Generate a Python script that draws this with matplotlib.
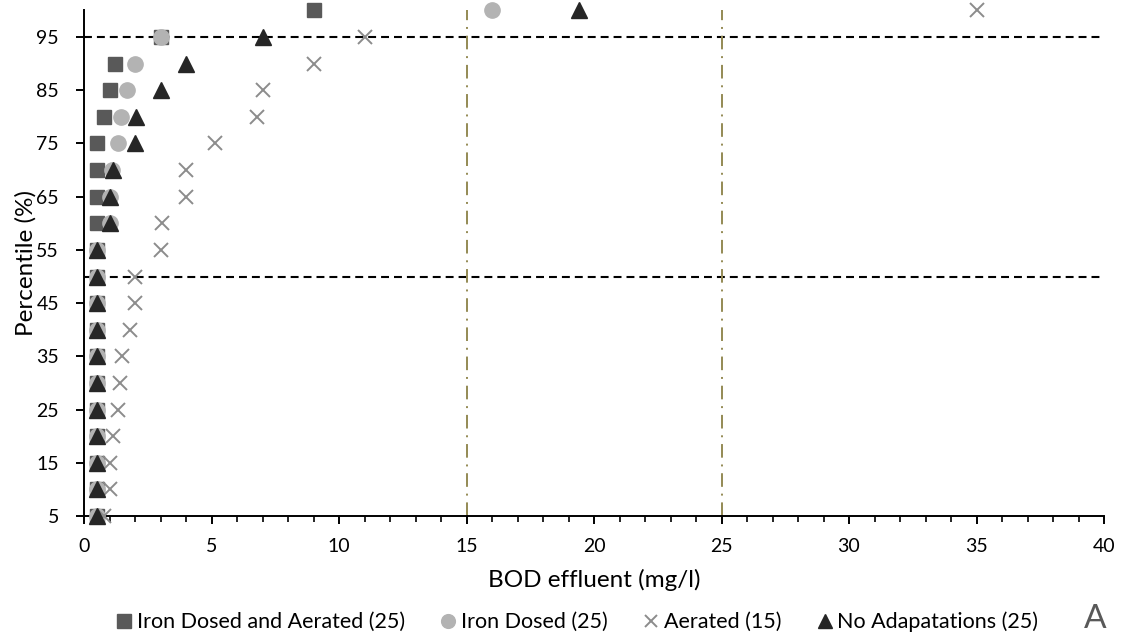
import numpy as np
import matplotlib.pyplot as plt
from matplotlib.ticker import MultipleLocator, FixedLocator

plt.rcParams["font.family"] = ["Lato", "DejaVu Sans"]

percentiles = list(range(5, 101, 5))

iron_dosed_aerated = [0.5, 0.5, 0.5, 0.5, 0.5, 0.5, 0.5, 0.5, 0.5, 0.5,
                      0.5, 0.5, 0.5, 0.5, 0.5, 0.8, 1.0, 1.2, 3.0, 9.0]
iron_dosed = [0.5, 0.5, 0.5, 0.5, 0.5, 0.5, 0.5, 0.5, 0.5, 0.5,
              0.5, 1.0, 1.0, 1.1, 1.35, 1.45, 1.7, 2.0, 3.0, 16.0]
aerated = [0.8, 1.0, 1.0, 1.15, 1.35, 1.4, 1.5, 1.8, 2.0, 2.0,
           3.0, 3.05, 4.0, 4.0, 5.15, 6.8, 7.0, 9.0, 11.0, 35.0]
no_adaptations = [0.5, 0.5, 0.5, 0.5, 0.5, 0.5, 0.5, 0.5, 0.5, 0.5,
                  0.5, 1.0, 1.0, 1.15, 2.0, 2.05, 3.0, 4.0, 7.0, 19.4]

series_labels = ["Iron Dosed and Aerated (25)", "Iron Dosed (25)",
                 "Aerated (15)", "No Adapatations (25)"]

percentile_lines = [50, 95]
limit_lines = [15, 25]

fig = plt.figure(figsize=(11.24, 6.38), dpi=100)
ax = fig.add_axes([84 / 1124, 1 - 516 / 638, 1020 / 1124, (516 - 10.4) / 638])

for y in percentile_lines:
    ax.axhline(y, color="black", lw=1.5, ls=(0, (3.8, 2.4)), zorder=1)
for x in limit_lines:
    ax.axvline(x, color="#948a54", lw=1.4, ls=(0, (7, 3.5, 1, 3.5)), zorder=1)

ax.plot(iron_dosed_aerated, percentiles, "s", ms=10.5, color="#595959",
        mec="#595959", ls="none", label=series_labels[0], clip_on=False, zorder=3)
ax.plot(iron_dosed, percentiles, "o", ms=11, color="#b3b3b3",
        mec="#b3b3b3", ls="none", label=series_labels[1], clip_on=False, zorder=4)
ax.plot(aerated, percentiles, "x", ms=9.5, mew=1.4, color="#8c8c8c",
        ls="none", label=series_labels[2], clip_on=False, zorder=5)
ax.plot(no_adaptations, percentiles, "^", ms=11, color="#262626",
        mec="#262626", ls="none", label=series_labels[3], clip_on=False, zorder=6)

ax.set_xlim(0, 40)
ax.set_ylim(5, 100)
ax.xaxis.set_major_locator(MultipleLocator(5))
ax.xaxis.set_minor_locator(MultipleLocator(1))
ax.yaxis.set_major_locator(FixedLocator(list(range(5, 96, 10))))

for side in ["top", "right"]:
    ax.spines[side].set_visible(False)
for side in ["left", "bottom"]:
    ax.spines[side].set_linewidth(1.4)

ax.tick_params(axis="x", which="major", length=6, width=1.4, pad=10, labelsize=14)
ax.tick_params(axis="x", which="minor", length=4, width=1.2)
ax.tick_params(axis="y", which="major", length=6, width=1.4, pad=12, labelsize=14)

ax.set_xlabel("BOD effluent (mg/l)", fontsize=17.5)
ax.xaxis.set_label_coords(0.5, -0.105)
ax.set_ylabel("Percentile (%)", fontsize=17.5, labelpad=0)

fig.legend(loc="center", bbox_to_anchor=(576 / 1124, 1 - 622 / 638), ncol=4,
           frameon=False, fontsize=15.5, handletextpad=0.1, columnspacing=1.5,
           handlelength=1.0, markerscale=0.9)

fig.text(1095 / 1124, 1 - 619 / 638, "A", fontsize=24, color="#595959",
         ha="center", va="center")

fig.savefig("out.png", dpi=100)
